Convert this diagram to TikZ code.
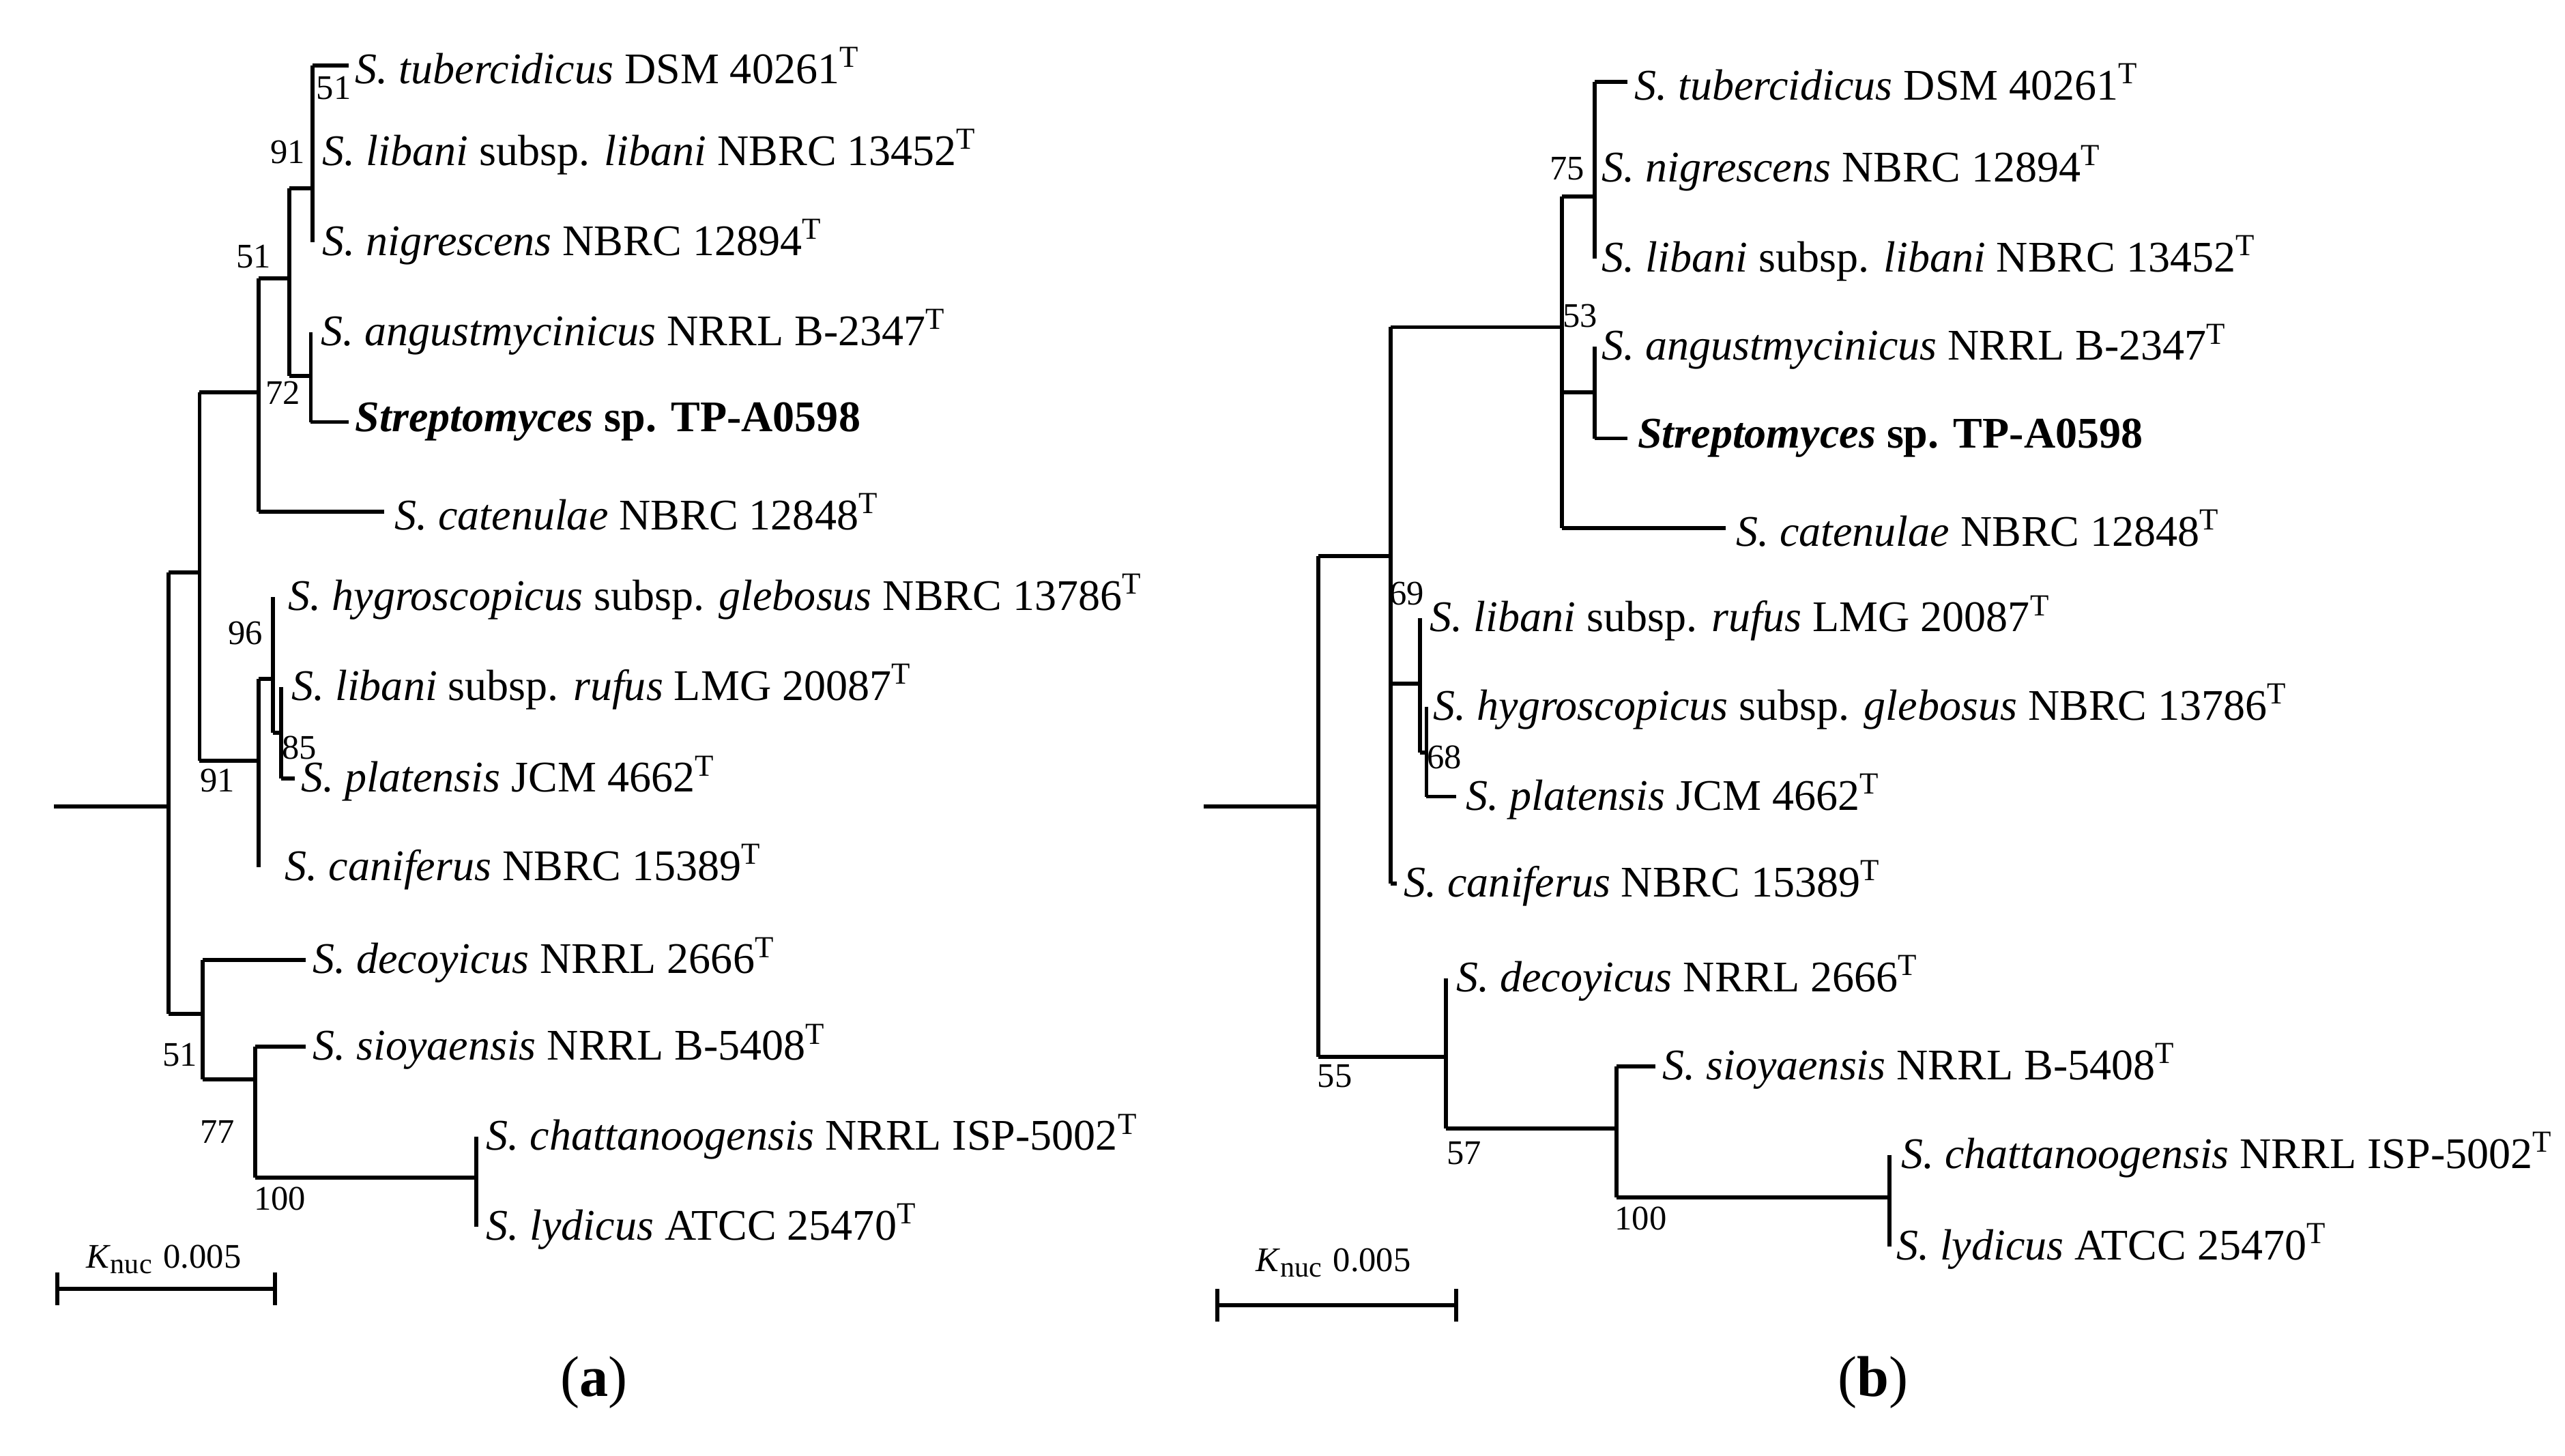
\documentclass[tikz,border=0pt]{standalone}
\usepackage{fontspec}
\setmainfont{Liberation Serif}
\begin{document}
\begin{tikzpicture}[x=0.01cm,y=-0.01cm,
  br/.style={line width=0.7pt},
  lab/.style={anchor=west,inner sep=1pt,font=\fontsize{7.6}{9}\selectfont},
  bs/.style={inner sep=0.5pt,font=\fontsize{6}{7}\selectfont},
  captxt/.style={font=\fontsize{10}{12}\selectfont}]
\useasboundingbox (0,0) rectangle (1568,890);
\newcommand{\Tx}{\textsuperscript{T}}
% ---------- tree (a)
\draw[br] (33,493)--(103,493);
\draw[br] (103,350)--(103,620);
\draw[br] (103,350)--(122,350) (122,240)--(122,465);
\draw[br] (122,240)--(158,240) (158,170)--(158,313);
\draw[br] (158,313)--(235,313);
\draw[br] (158,170)--(177,170) (177,115)--(177,230);
\draw[br] (177,115)--(191,115) (191,40)--(191,148);
\draw[br] (191,40)--(213,40);
\draw[br] (177,230)--(190,230) (190,203)--(190,258) (190,258)--(213,258);
\draw[br] (122,465)--(158,465) (158,415)--(158,530);
\draw[br] (158,415)--(167,415) (167,365)--(167,448);
\draw[br] (167,448)--(172,448) (172,420)--(172,476) (172,476)--(180,476);
\node[lab] (a1) at (213,40) {\textit{S. tubercidicus} DSM 40261\Tx};
\node[lab] (a2) at (193,93) {\textit{S. libani} subsp. \textit{libani} NBRC 13452\Tx};
\node[lab] (a3) at (193,148) {\textit{S. nigrescens} NBRC 12894\Tx};
\node[lab] (a4) at (192,203) {\textit{S. angustmycinicus} NRRL B-2347\Tx};
\node[lab] (a5) at (213,258) {\textbf{\textit{Streptomyces} sp. TP-A0598}};
\node[lab] (a6) at (237,313) {\textit{S. catenulae} NBRC 12848\Tx};
\node[lab] (a7) at (172,365) {\textit{S. hygroscopicus} subsp. \textit{glebosus} NBRC 13786\Tx};
\node[lab] (a8) at (174,420) {\textit{S. libani} subsp. \textit{rufus} LMG 20087\Tx};
\node[lab] (a9) at (180,476) {\textit{S. platensis} JCM 4662\Tx};
\node[lab] (a10) at (170,530) {\textit{S. caniferus} NBRC 15389\Tx};
\node[lab] (a11) at (187,587) {\textit{S. decoyicus} NRRL 2666\Tx};
\node[lab] (a12) at (187,640) {\textit{S. sioyaensis} NRRL B-5408\Tx};
\node[lab] (a13) at (293,695) {\textit{S. chattanoogensis} NRRL ISP-5002\Tx};
\node[lab] (a14) at (293,750) {\textit{S. lydicus} ATCC 25470\Tx};
\draw[br] (103,620)--(124,620) (124,587)--(124,660) (124,587)--(187,587);
\draw[br] (124,660)--(156,660) (156,640)--(156,720) (156,640)--(187,640);
\draw[br] (156,720)--(291,720) (291,695)--(291,750);
\node[bs] (b1) at (204,54) {51};
\node[bs,anchor=east] (b2) at (189,93) {91};
\node[bs] (b3) at (155,157) {51};
\node[bs,anchor=east] (b4) at (186,240) {72};
\node[bs] (b5) at (150,387) {96};
\node[bs] (b6) at (183,457) {85};
\node[bs] (b7) at (133,477) {91};
\node[bs] (b8) at (110,645) {51};
\node[bs] (b9) at (133,692) {77};
\node[bs] (b10) at (171,733) {100};
\draw[br] (35,788)--(168,788) (35,778)--(35,798) (168,778)--(168,798);
\node[bs] (sa) at (100,770) {\textit{K}\textsubscript{nuc} 0.005};
\node[captxt] (ca) at (363,845) {(\textbf{a})};
% ---------- tree (b)
\draw[br] (736,493)--(806,493) (806,340)--(806,646);
\draw[br] (806,340)--(850,340) (850,200)--(850,540) (850,540)--(854,540);
\draw[br] (850,200)--(955,200) (955,120)--(955,323) (955,323)--(1055,323);
\draw[br] (955,120)--(975,120) (975,50)--(975,158) (975,50)--(995,50);
\draw[br] (955,240)--(975,240) (975,212)--(975,268) (975,268)--(995,268);
\draw[br] (850,418)--(868,418) (868,378)--(868,460);
\draw[br] (868,460)--(872,460) (872,432)--(872,487) (872,487)--(890,487);
\draw[br] (806,646)--(884,646) (884,598)--(884,690);
\draw[br] (884,690)--(988,690) (988,652)--(988,732) (988,652)--(1012,652);
\draw[br] (988,732)--(1155,732) (1155,706)--(1155,762);
\node[lab] (c1) at (995,50) {\textit{S. tubercidicus} DSM 40261\Tx};
\node[lab] (c2) at (975,103) {\textit{S. nigrescens} NBRC 12894\Tx};
\node[lab] (c3) at (975,158) {\textit{S. libani} subsp. \textit{libani} NBRC 13452\Tx};
\node[lab] (c4) at (975,212) {\textit{S. angustmycinicus} NRRL B-2347\Tx};
\node[lab] (c5) at (997,268) {\textbf{\textit{Streptomyces} sp. TP-A0598}};
\node[lab] (c6) at (1057,323) {\textit{S. catenulae} NBRC 12848\Tx};
\node[lab] (c7) at (870,378) {\textit{S. libani} subsp. \textit{rufus} LMG 20087\Tx};
\node[lab] (c8) at (872,432) {\textit{S. hygroscopicus} subsp. \textit{glebosus} NBRC 13786\Tx};
\node[lab] (c9) at (892,487) {\textit{S. platensis} JCM 4662\Tx};
\node[lab] (c10) at (854,540) {\textit{S. caniferus} NBRC 15389\Tx};
\node[lab] (c11) at (886,598) {\textit{S. decoyicus} NRRL 2666\Tx};
\node[lab] (c12) at (1012,652) {\textit{S. sioyaensis} NRRL B-5408\Tx};
\node[lab] (c13) at (1158,706) {\textit{S. chattanoogensis} NRRL ISP-5002\Tx};
\node[lab] (c14) at (1155,762) {\textit{S. lydicus} ATCC 25470\Tx};
\node[bs,anchor=east] (d1) at (971,103) {75};
\node[bs] (d2) at (966,193) {53};
\node[bs] (d3) at (860,363) {69};
\node[bs] (d4) at (883,463) {68};
\node[bs] (d5) at (816,658) {55};
\node[bs] (d6) at (895,705) {57};
\node[bs] (d7) at (1003,745) {100};
\draw[br] (744,798)--(890,798) (744,788)--(744,808) (890,788)--(890,808);
\node[bs] (sb) at (815,772) {\textit{K}\textsubscript{nuc} 0.005};
\node[captxt] (cb) at (1145,845) {(\textbf{b})};
\end{tikzpicture}
\end{document}
